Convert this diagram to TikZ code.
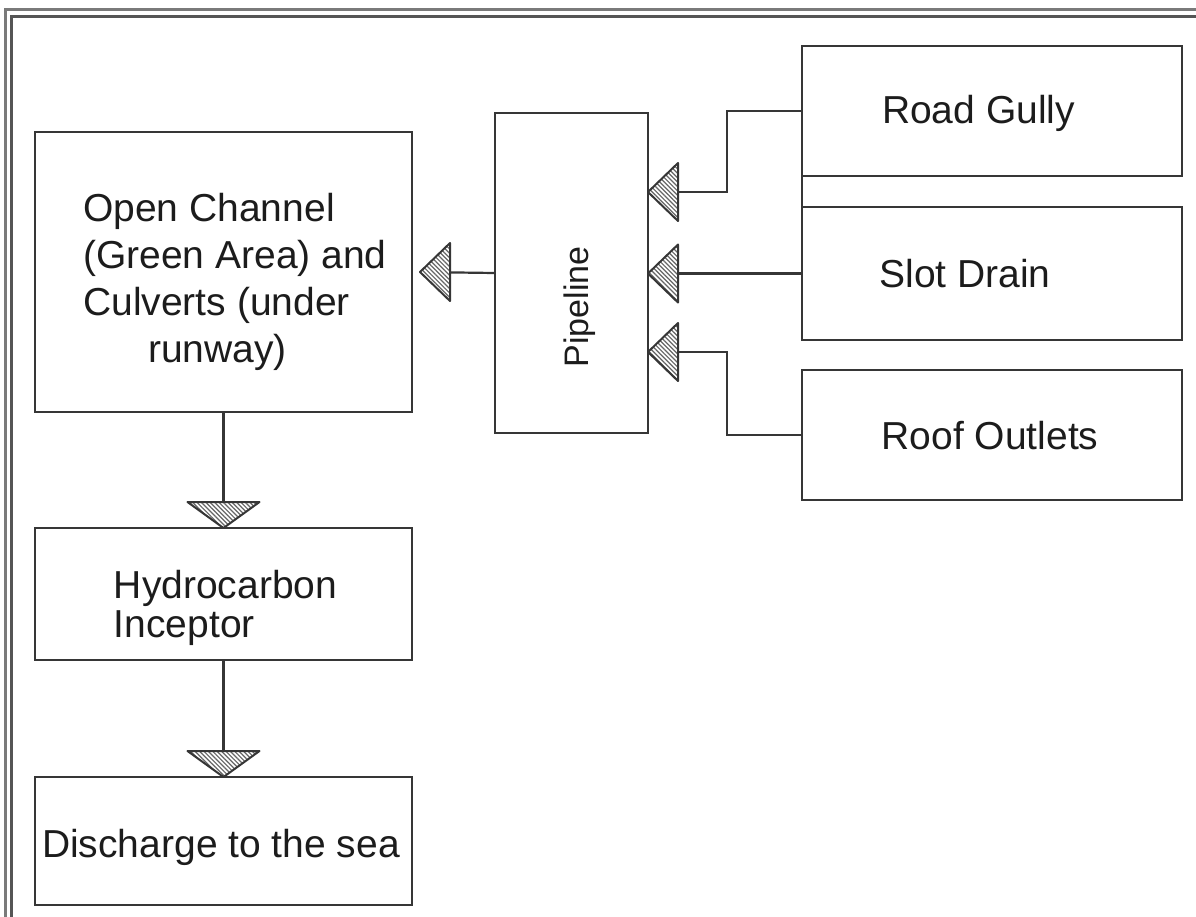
\documentclass[tikz,border=0pt]{standalone}
\usepackage{fontspec}
\setmainfont{Liberation Sans}
\usetikzlibrary{patterns,calc}
\definecolor{linec}{HTML}{363636}
\definecolor{textc}{HTML}{1C1C1C}
\definecolor{bordo}{HTML}{7A7A7A}
\definecolor{bordi}{HTML}{555555}
\pgfdeclarepatternformonly{densehatch}{\pgfqpoint{-1pt}{-1pt}}{\pgfqpoint{3pt}{3pt}}{\pgfqpoint{2.2pt}{2.2pt}}{%
  \pgfsetlinewidth{0.6pt}%
  \pgfpathmoveto{\pgfqpoint{0pt}{2.2pt}}%
  \pgfpathlineto{\pgfqpoint{2.2pt}{0pt}}%
  \pgfusepath{stroke}}
\begin{document}
\begin{tikzpicture}[x=0.5pt,y=-0.5pt,
  box/.style={draw=linec, line width=1.2pt, rectangle, inner sep=0pt, outer sep=0pt},
  conn/.style={draw=linec, line width=1.1pt},
  lbl/.style={text=textc, inner sep=0pt, font=\fontsize{19.5}{23.5}\selectfont},
  hatch/.style={draw=linec, line width=1pt, line join=round,
    preaction={fill=white}, pattern=densehatch, pattern color=black!60},
  tipleft/.pic={\path[hatch] (0,0) -- (30,-29) -- (30,29) -- cycle;},
  tipdown/.pic={\path[hatch] (0,0) -- (-36,-26) -- (36,-26) -- cycle;}
]
\useasboundingbox (0,0) rectangle (1196,917);
% outer frame
\draw[bordo, line width=1.7pt] (5.5,917) -- (5.5,9.5) -- (1196,9.5);
\draw[bordi, line width=1.7pt] (11.5,917) -- (11.5,16.5) -- (1196,16.5);

% boxes
\node[box, minimum width=188.5pt, minimum height=140pt] (open) at (223.5,272) {};
\node[box, minimum width=76.5pt, minimum height=160pt] (pipe) at (571.5,273) {};
\node[box, minimum width=190pt, minimum height=65pt] (road) at (992,111) {};
\node[box, minimum width=190pt, minimum height=66.5pt] (slot) at (992,273.5) {};
\node[box, minimum width=190pt, minimum height=65pt] (roof) at (992,435) {};
\node[box, minimum width=188.5pt, minimum height=66pt] (hydro) at (223.5,594) {};
\node[box, minimum width=188.5pt, minimum height=64pt] (disc) at (223.5,841) {};

% texts
\node[lbl, align=left, anchor=center] (topen) at (235,281.5)
  {Open Channel\\(Green Area) and\\Culverts (under\\\hspace*{32.5pt}runway)};
\node[lbl, align=left, anchor=center, font=\fontsize{19.5}{19.5}\selectfont] (thydro) at (225.5,607.5)
  {Hydrocarbon\\Inceptor};
\node[lbl, anchor=base] (tdisc) at (221,857) {Discharge to the sea};
\node[lbl, anchor=base] (troad) at (978.5,123) {Road Gully};
\node[lbl, anchor=base] (tslot) at (965,287) {Slot Drain};
\node[lbl, anchor=base] (troof) at (990,449) {Roof Outlets};
\node[lbl, rotate=90, anchor=center, font=\fontsize{17}{20}\selectfont] (tpipe) at (580,307) {Pipeline};

% helper points
\coordinate (t1) at ($(open.east)+(8,0)$);
\coordinate (k1) at (727,192);
\coordinate (k2) at (727,352);

% connectors
\draw[conn] (pipe.west) -- (t1);
\draw[conn] (road.west) -| (k1) -- (pipe.east |- k1);
\draw[conn] (slot.west) -- (pipe.east |- slot.west);
\draw[conn] (roof.west) -| (k2) -- (pipe.east |- k2);
\draw[box] (road.south west) -- (slot.north west);
\draw[conn] (open.south) -- (hydro.north);
\draw[conn] (hydro.south) -- (disc.north);

% arrow heads
\pic at (t1) {tipleft};
\pic at (pipe.east |- k1) {tipleft};
\pic at (pipe.east |- slot.west) {tipleft};
\pic at (pipe.east |- k2) {tipleft};
\pic at (hydro.north) {tipdown};
\pic at (disc.north) {tipdown};
\end{tikzpicture}
\end{document}
